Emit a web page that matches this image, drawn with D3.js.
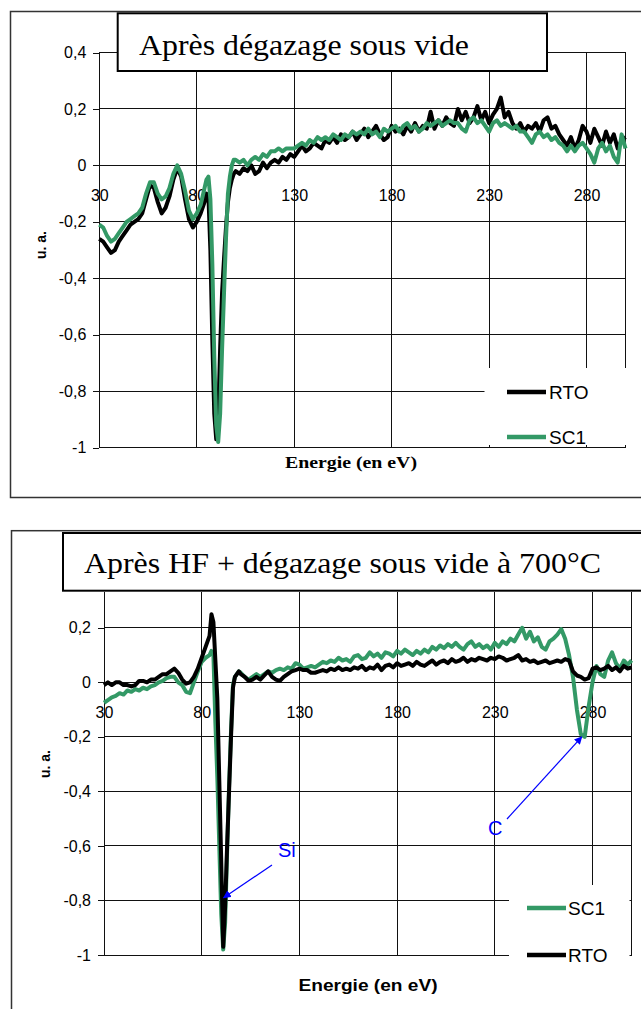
<!DOCTYPE html>
<html><head><meta charset="utf-8">
<script src="https://cdn.jsdelivr.net/npm/d3@7/dist/d3.min.js"></script>
<style>body{margin:0;background:#fff}svg{display:block}</style>
</head><body>
<svg id="c" width="641" height="1009"></svg>
<script>
// Energy grid (eV), shared by all series
const energy = [
 30,32,34,36,38,40,42,44,46,48,50,52,54,56,58,60,62,64,66,68,70,72,74,76,78,80,82,84,
 85,86,87,88,89,90,91,92,93,94,95,96,97,98,99,100,
 102,104,106,108,110,112,114,116,118,120,
 122,124,126,128,130,132,134,136,138,140,
 142,144,146,148,150,152,154,156,158,160,
 162,164,166,168,170,172,174,176,178,180,
 182,184,186,188,190,192,194,196,198,200,
 202,204,206,208,210,212,214,216,218,220,
 222,224,226,228,230,232,234,236,238,240,
 242,244,246,248,250,252,254,256,258,260,
 262,264,266,268,270,272,274,276,278,280,
 282,284,286,288,290,292,294,296,298,300];

// Chart 1 : "Après dégazage sous vide"
const topRTO = [
 -0.26,-0.27,-0.29,-0.31,-0.30,-0.27,-0.25,-0.23,-0.21,-0.20,-0.19,-0.17,-0.12,-0.07,-0.08,-0.13,-0.17,-0.15,-0.11,-0.05,-0.01,-0.04,-0.12,-0.19,-0.22,-0.20,-0.17,-0.13,
 -0.10,-0.11,-0.30,-0.62,-0.88,-0.97,-0.90,-0.65,-0.45,-0.33,-0.22,-0.13,-0.08,-0.05,-0.03,-0.02,
 -0.03,-0.01,-0.02,0.00,-0.03,-0.02,0.01,-0.01,0.01,0.02,
 0.01,0.03,0.02,0.04,0.03,0.05,0.07,0.05,0.06,0.08,
 0.07,0.06,0.09,0.08,0.10,0.08,0.11,0.09,0.10,0.12,
 0.09,0.11,0.13,0.10,0.12,0.14,0.11,0.09,0.10,0.14,
 0.12,0.13,0.11,0.14,0.12,0.15,0.12,0.14,0.13,0.19,
 0.13,0.16,0.14,0.17,0.15,0.14,0.20,0.16,0.19,0.15,
 0.17,0.21,0.16,0.19,0.15,0.18,0.20,0.24,0.17,0.19,
 0.15,0.13,0.15,0.12,0.14,0.13,0.15,0.12,0.16,0.17,
 0.13,0.14,0.11,0.09,0.07,0.10,0.06,0.09,0.14,0.12,
 0.08,0.13,0.10,0.07,0.12,0.08,0.11,0.06,0.09,0.10];
const topSC1 = [
 -0.21,-0.22,-0.25,-0.27,-0.26,-0.24,-0.22,-0.20,-0.19,-0.18,-0.17,-0.15,-0.10,-0.06,-0.06,-0.10,-0.12,-0.11,-0.08,-0.03,0.00,-0.03,-0.09,-0.16,-0.19,-0.17,-0.14,-0.08,
 -0.05,-0.04,-0.12,-0.35,-0.68,-0.92,-0.98,-0.88,-0.65,-0.45,-0.26,-0.10,-0.04,0.00,0.02,0.02,
 0.01,0.02,0.00,0.02,0.03,0.02,0.04,0.03,0.05,0.05,
 0.06,0.05,0.06,0.06,0.06,0.07,0.08,0.07,0.09,0.08,
 0.10,0.09,0.10,0.09,0.11,0.10,0.09,0.11,0.10,0.12,
 0.11,0.12,0.11,0.13,0.11,0.12,0.10,0.13,0.12,0.13,
 0.14,0.12,0.14,0.15,0.13,0.14,0.12,0.13,0.15,0.14,
 0.15,0.16,0.14,0.15,0.16,0.15,0.15,0.13,0.12,0.16,
 0.17,0.15,0.16,0.14,0.12,0.15,0.16,0.14,0.15,0.14,
 0.13,0.14,0.12,0.12,0.10,0.08,0.11,0.12,0.10,0.11,
 0.09,0.10,0.08,0.07,0.05,0.07,0.05,0.07,0.08,0.06,
 0.04,0.01,0.06,0.08,0.05,0.07,0.03,0.01,0.11,0.06];

// Chart 2 : "Après HF + dégazage sous vide à 700°C"
const botRTO = [
 -0.01,0.00,-0.01,0.00,0.00,-0.01,-0.01,-0.015,-0.01,0.005,0.005,0.00,0.01,0.01,0.02,0.03,0.03,0.04,0.05,0.035,0.01,-0.005,0.00,0.02,0.05,0.09,0.13,0.17,
 0.25,0.22,0.08,-0.06,-0.36,-0.66,-0.97,-0.82,-0.60,-0.40,-0.20,-0.02,0.02,0.03,0.04,0.03,
 0.02,0.005,0.01,0.02,0.01,0.025,0.04,0.02,0.01,0.005,
 0.02,0.03,0.04,0.045,0.05,0.045,0.045,0.035,0.035,0.04,
 0.045,0.04,0.05,0.045,0.055,0.045,0.05,0.045,0.055,0.05,
 0.06,0.045,0.055,0.05,0.065,0.045,0.06,0.065,0.055,0.07,
 0.06,0.065,0.07,0.06,0.075,0.065,0.06,0.07,0.08,0.065,
 0.075,0.08,0.07,0.085,0.075,0.08,0.09,0.075,0.085,0.08,
 0.09,0.085,0.08,0.09,0.085,0.095,0.09,0.08,0.085,0.09,
 0.10,0.08,0.085,0.075,0.08,0.07,0.075,0.08,0.07,0.075,
 0.08,0.075,0.085,0.08,0.04,0.025,0.02,0.01,0.015,0.05,
 0.055,0.045,0.05,0.06,0.045,0.055,0.04,0.06,0.05,0.055];
const botSC1 = [
 -0.075,-0.065,-0.055,-0.05,-0.04,-0.045,-0.03,-0.035,-0.025,-0.03,-0.02,-0.025,-0.015,-0.01,0.00,0.005,0.015,0.02,0.02,0.00,-0.01,-0.035,-0.04,0.00,0.04,0.075,0.09,0.10,
 0.115,0.10,-0.15,-0.35,-0.60,-0.85,-0.98,-0.88,-0.62,-0.38,-0.18,-0.01,0.02,0.03,0.04,0.035,
 0.02,0.01,0.02,0.03,0.02,0.03,0.04,0.035,0.045,0.05,
 0.045,0.055,0.05,0.07,0.065,0.05,0.055,0.06,0.055,0.065,
 0.075,0.07,0.08,0.075,0.09,0.08,0.085,0.075,0.095,0.10,
 0.085,0.09,0.11,0.095,0.105,0.09,0.11,0.105,0.095,0.115,
 0.105,0.12,0.11,0.10,0.115,0.105,0.12,0.11,0.13,0.12,
 0.135,0.125,0.14,0.13,0.145,0.13,0.12,0.14,0.15,0.13,
 0.14,0.125,0.135,0.12,0.145,0.13,0.15,0.14,0.16,0.15,
 0.175,0.20,0.16,0.185,0.15,0.165,0.13,0.12,0.15,0.16,
 0.175,0.195,0.16,0.10,0.02,-0.10,-0.19,-0.20,-0.09,0.00,
 0.06,0.03,0.02,0.08,0.11,0.07,0.05,0.08,0.065,0.08];

const xTickValues = [30,80,130,180,230,280];
const yTicksTop = [-1,-0.8,-0.6,-0.4,-0.2,0,0.2,0.4];
const yTicksBottom = [-1,-0.8,-0.6,-0.4,-0.2,0,0.2];
const xDomain = [30,300];
const titleTop = "Après dégazage sous vide";
const titleBottom = "Après HF + dégazage sous vide à 700°C";
const xTitle = "Energie (en eV)";
const yTitle = "u. a.";

const GREEN = "#339966", BLACK = "#000";
const SANS = "'Liberation Sans', Arial, sans-serif";
const SERIF = "'Liberation Serif', 'Times New Roman', serif";
const fmt = d => String(+d.toFixed(1)).replace('.', ',');

const svg = d3.select('#c');
const defs = svg.append('defs');
defs.append('marker').attr('id','arr').attr('viewBox','0 0 10 10').attr('refX',9).attr('refY',5)
  .attr('markerWidth',8).attr('markerHeight',8).attr('markerUnits','userSpaceOnUse').attr('orient','auto')
  .append('path').attr('d','M0,0 L10,5 L0,10 z').attr('fill','#0000ff');

function drawChart(c) {
  const g = svg.append('g');
  const x = d3.scaleLinear().domain(xDomain).range([c.left, c.right]);
  const y = d3.scaleLinear().domain([-1, c.yMax]).range([c.bottom, c.top]);
  g.append('rect').attr('x', c.frame[0]).attr('y', c.frame[1]).attr('width', c.frame[2]).attr('height', c.frame[3])
    .attr('fill','none').attr('stroke','#333').attr('stroke-width',1.5);
  g.selectAll('.hg').data(c.yTicks).join('line')
    .attr('x1', c.left).attr('x2', c.right).attr('y1', d => y(d)).attr('y2', d => y(d))
    .attr('stroke','#111').attr('stroke-width',1).attr('shape-rendering','crispEdges');
  g.selectAll('.vg').data(xTickValues.slice(1).concat([xDomain[1]])).join('line')
    .attr('x1', d => x(d)).attr('x2', d => x(d)).attr('y1', y(c.yMax)).attr('y2', y(-1))
    .attr('stroke','#111').attr('stroke-width',1).attr('shape-rendering','crispEdges');
  const ya = g.append('g').attr('transform', `translate(${c.left},0)`)
    .call(d3.axisLeft(y).tickValues(c.yTicks).tickFormat(fmt).tickSize(6).tickPadding(7).tickSizeOuter(0));
  ya.select('.domain').attr('stroke','#111').attr('shape-rendering','crispEdges');
  ya.selectAll('.tick line').attr('stroke','#111').attr('shape-rendering','crispEdges');
  ya.selectAll('text').attr('font-family', SANS).attr('font-size', 16).attr('fill','#000');
  const xa = g.append('g').attr('transform', `translate(0,${y(0)})`)
    .call(d3.axisBottom(x).tickValues(xTickValues).tickSize(0).tickPadding(24).tickFormat(d => d));
  xa.select('.domain').remove();
  xa.selectAll('text').attr('font-family', SANS).attr('font-size', 16).attr('fill','#000');
  g.append('text').attr('transform', `translate(${c.yTitlePos[0]},${c.yTitlePos[1]}) rotate(-90)`)
    .attr('text-anchor','middle').attr('dominant-baseline','central')
    .attr('font-family', SANS).attr('font-weight','bold').attr('font-size',14).text(yTitle);
  g.append('text').attr('x', c.xTitlePos[0]).attr('y', c.xTitlePos[1]).attr('text-anchor','middle')
    .attr('font-family', c.xTitleFont).attr('font-weight','bold').attr('font-size', c.xTitleSize)
    .attr('textLength', c.xTitleLen).attr('lengthAdjust','spacingAndGlyphs').text(xTitle);
  const line = d3.line().x((d,i) => x(energy[i])).y(d => y(d)).curve(d3.curveLinear);
  c.series.forEach(s => {
    g.append('path').datum(s.values).attr('d', line).attr('fill','none')
      .attr('stroke', s.color).attr('stroke-width', 4).attr('stroke-linejoin','round');
  });
  const L = c.legend;
  g.append('rect').attr('x', L.box[0]).attr('y', L.box[1]).attr('width', L.box[2]).attr('height', L.box[3]).attr('fill','#fff');
  L.items.forEach((it, i) => {
    const yy = L.rows[i];
    g.append('line').attr('x1', L.lx[0]).attr('x2', L.lx[1]).attr('y1', yy).attr('y2', yy)
      .attr('stroke', it.color).attr('stroke-width', 4.5);
    g.append('text').attr('x', L.tx).attr('y', yy).attr('dominant-baseline','central')
      .attr('font-family', SANS).attr('font-size', 19).text(it.name);
  });
  g.append('rect').attr('x', c.tbox[0]).attr('y', c.tbox[1]).attr('width', c.tbox[2]).attr('height', c.tbox[3])
    .attr('fill','#fff').attr('stroke','#000').attr('stroke-width',2);
  g.append('text').attr('x', c.ttext[0]).attr('y', c.ttext[1])
    .attr('font-family', SERIF).attr('font-size', c.ttext[2])
    .attr('textLength', c.ttext[3]).attr('lengthAdjust','spacingAndGlyphs').text(c.title);
  return {x, y, g};
}

drawChart({
  frame: [10.5, 11.5, 700, 486], left: 99.3, right: 625.5, top: 52.5, bottom: 447.7, yMax: 0.4,
  yTicks: yTicksTop, yTitlePos: [41, 245], xTitlePos: [351, 468], xTitleFont: SERIF, xTitleSize: 17, xTitleLen: 132,
  series: [{values: topRTO, color: BLACK}, {values: topSC1, color: GREEN}],
  legend: {box: [484.5, 368, 142.5, 77], lx: [507, 546], tx: 549, rows: [392, 437],
    items: [{name: 'RTO', color: BLACK}, {name: 'SC1', color: GREEN}]},
  tbox: [117.7, 13.3, 429.3, 57.7], ttext: [139, 54.5, 29, 330], title: titleTop
});

const B = drawChart({
  frame: [11.5, 530.7, 700, 600], left: 104, right: 631.6, top: 591.5, bottom: 955, yMax: 0.333,
  yTicks: yTicksBottom, yTitlePos: [45, 764], xTitlePos: [368, 991], xTitleFont: SANS, xTitleSize: 16, xTitleLen: 139,
  series: [{values: botSC1, color: GREEN}, {values: botRTO, color: BLACK}],
  legend: {box: [509, 885, 120.5, 92], lx: [527, 566], tx: 568, rows: [908, 955],
    items: [{name: 'SC1', color: GREEN}, {name: 'RTO', color: BLACK}]},
  tbox: [63, 533, 700, 57.7], ttext: [84, 573, 30, 517], title: titleBottom
});

const ann = [
  {label: 'Si', tx: 278, ty: 857, from: [272, 865], to: [91.2, -0.79]},
  {label: 'C', tx: 488, ty: 835, from: [507, 819], to: [274.5, -0.2]}
];
ann.forEach(a => {
  B.g.append('line').attr('x1', a.from[0]).attr('y1', a.from[1])
    .attr('x2', B.x(a.to[0])).attr('y2', B.y(a.to[1]))
    .attr('stroke','#0000ff').attr('stroke-width',1.2).attr('marker-end','url(#arr)');
  B.g.append('text').attr('x', a.tx).attr('y', a.ty).attr('font-family', SANS).attr('font-size', 20)
    .attr('fill','#0000ff').text(a.label);
});
</script>
</body></html>
